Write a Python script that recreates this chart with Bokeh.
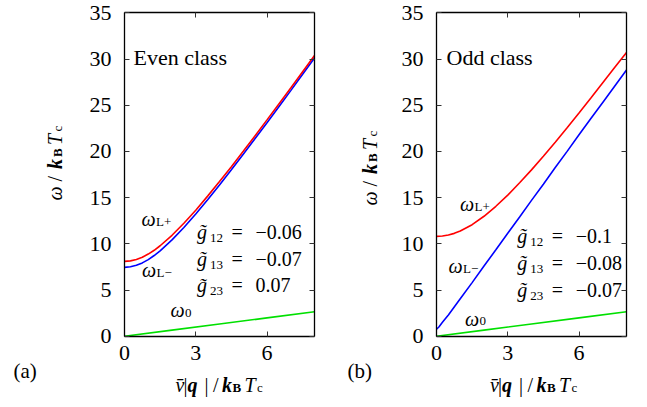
import math
from bokeh.plotting import figure
from bokeh.models import Label, LinearAxis, FixedTicker, CustomJSTickFormatter
from bokeh.layouts import row
from bokeh.embed import file_html
from bokeh.resources import INLINE

# ---------------- data ----------------
q_even = [0, 0.25, 0.5, 0.75, 1, 1.25, 1.5, 2, 2.5, 3, 3.5, 4, 4.5, 5, 5.5,
          6, 6.5, 7, 7.5, 8]
even_Lplus = [8.10, 8.15, 8.30, 8.55, 8.89, 9.30, 9.79, 10.92, 12.22, 13.64,
              15.16, 16.73, 18.35, 20.01, 21.70, 23.41, 25.13, 26.87, 28.62,
              30.38]
even_Lminus = [7.45, 7.51, 7.67, 7.93, 8.29, 8.73, 9.24, 10.42, 11.77, 13.23,
               14.77, 16.37, 18.02, 19.69, 21.39, 23.10, 24.84, 26.58, 28.34,
               30.10]
q_zero = [0, 2, 4, 6, 8]
even_0 = [0, 0.66, 1.32, 1.98, 2.64]

q_odd_plus = [0, 0.25, 0.5, 0.75, 1, 1.5, 2, 2.5, 3, 3.5, 4, 4.5, 5, 5.5, 6,
              6.5, 7, 7.5, 8]
odd_Lplus = [10.80, 10.84, 10.95, 11.13, 11.38, 12.07, 12.98, 14.06, 15.27,
             16.60, 18.00, 19.47, 20.99, 22.55, 24.15, 25.77, 27.42, 29.08,
             30.70]
q_odd_minus = [0, 0.1, 0.25, 0.5, 1, 1.5, 2, 2.5, 3, 3.5, 4, 4.5, 5, 5.5, 6,
               6.5, 7, 7.5, 8]
odd_Lminus = [0.75, 1.00, 1.50, 2.30, 4.05, 5.80, 7.60, 9.35, 11.15, 12.90,
              14.70, 16.45, 18.25, 20.00, 21.80, 23.55, 25.30, 27.05, 28.80]
odd_0 = [0, 0.66, 1.32, 1.98, 2.65]

x_ticks = [0, 3, 6]
y_ticks = [0, 5, 10, 15, 20, 25, 30, 35]
X_MAX = 8
Y_MAX = 35

# ---------------- layout constants (page pixels) ----------------
H = 407
FRAME_TOP = 12.3
FRAME_BOTTOM = 335.7
FRAME_W = 190.0
XS = FRAME_W / X_MAX
YS = (FRAME_BOTTOM - FRAME_TOP) / Y_MAX
FONT = "Liberation Serif"
BASE_SHIFT = 7.0   # renderer places the alphabetic baseline this much lower


def make_panel(page_left, page_right, fl):
    x0 = (page_left - fl) / XS
    x1 = (page_right - fl) / XS
    y0 = (FRAME_BOTTOM - H) / YS
    y1 = FRAME_BOTTOM / YS
    p = figure(width=int(page_right - page_left), height=H,
               x_range=(x0, x1), y_range=(y0, y1),
               output_backend="svg", toolbar_location=None,
               x_axis_location=None, y_axis_location=None,
               min_border=0, min_border_left=0, min_border_right=0,
               min_border_top=0, min_border_bottom=0)
    p.xgrid.visible = False
    p.ygrid.visible = False
    p.outline_line_color = None
    p.background_fill_color = "white"
    p.border_fill_color = "white"

    left = LinearAxis(fixed_location=0, bounds=(0, Y_MAX),
                      ticker=FixedTicker(ticks=y_ticks), major_label_standoff=13)
    right = LinearAxis(fixed_location=X_MAX, bounds=(0, Y_MAX),
                       ticker=FixedTicker(ticks=y_ticks),
                       formatter=CustomJSTickFormatter(code="return ''"),
                       major_label_standoff=0)
    below = LinearAxis(fixed_location=0, bounds=(0, X_MAX),
                       ticker=FixedTicker(ticks=x_ticks), major_label_standoff=10)
    above = LinearAxis(fixed_location=Y_MAX, bounds=(0, X_MAX),
                       ticker=FixedTicker(ticks=x_ticks),
                       formatter=CustomJSTickFormatter(code="return ''"),
                       major_label_standoff=0)
    for ax, side in ((left, "left"), (right, "right"), (below, "below"),
                     (above, "above")):
        ax.axis_line_color = "black"
        ax.axis_line_width = 1.3
        ax.major_tick_in = 5
        ax.major_tick_out = 0
        ax.major_tick_line_color = "#333333"
        ax.major_tick_line_width = 1
        ax.minor_tick_line_color = None
        ax.major_label_text_font = FONT
        ax.major_label_text_font_size = "22px"
        ax.major_label_text_color = "black"
        p.add_layout(ax, side)
    return p


def lab(p, fl, px, py, text, size=20, style="normal", angle=0.0):
    if angle:
        px -= BASE_SHIFT
    else:
        py -= BASE_SHIFT
    p.add_layout(Label(x=(px - fl) / XS, y=(FRAME_BOTTOM - py) / YS,
                       text=text, text_font=FONT, text_font_size=f"{size}px",
                       text_font_style=style, text_color="black", angle=angle,
                       text_align="left", text_baseline="alphabetic"))


def axis_labels(p, fl, dx, dy):
    a = math.pi / 2
    bx = fl - 62.3 + dx
    lab(p, fl, bx, 200 + dy, "ω", 20, "italic", a)
    lab(p, fl, bx, 181 + dy, "/", 20, "normal", a)
    lab(p, fl, bx, 168.5 + dy, "k", 20, "bold italic", a)
    lab(p, fl, bx + 2.5, 156.5 + dy, "B", 13, "bold", a)
    lab(p, fl, bx, 144.5 + dy, "T", 20, "italic", a)
    lab(p, fl, bx + 2.5, 131 + dy, "c", 13, "normal", a)
    ox = fl - 124 + dx
    by = 391
    lab(p, fl, 175 + ox, by, "v\u0304", 20, "italic")
    lab(p, fl, 183 + ox, by, "|", 20, "normal")
    lab(p, fl, 187 + ox, by, "q", 20, "bold italic")
    lab(p, fl, 204 + ox, by, "|", 20, "normal")
    lab(p, fl, 212.5 + ox, by, "/", 20, "normal")
    lab(p, fl, 221.5 + ox, by, "k", 20, "bold italic")
    lab(p, fl, 232 + ox, by + 3, "B", 13, "bold")
    lab(p, fl, 244 + ox, by, "T", 20, "italic")
    lab(p, fl, 256.5 + ox, by + 3, "c", 13, "normal")


def omega(p, fl, px, py, sub):
    lab(p, fl, px, py, "ω", 20, "italic")
    lab(p, fl, px + 14.5, py + 2.5, sub, 13, "normal")


def gline(p, fl, px, py, sub, val):
    lab(p, fl, px, py, "g\u0303", 20, "italic")
    lab(p, fl, px + 13, py + 6, sub, 13, "normal")
    lab(p, fl, px + 34.5, py, "=", 20, "normal")
    lab(p, fl, px + 58.5, py, val, 20, "normal")


RED = "#ff0000"
BLUE = "#0000ff"
GREEN = "#00e000"
LW = 1.6

# ---------------- panel (a) ----------------
FL1 = 124
p1 = make_panel(0, 328, FL1)
p1.line(q_zero, even_0, line_color=GREEN, line_width=LW)
p1.line(q_even, even_Lminus, line_color=BLUE, line_width=LW)
p1.line(q_even, even_Lplus, line_color=RED, line_width=LW)
lab(p1, FL1, 133, 63.5, "Even class", 22)
omega(p1, FL1, 141, 225, "L+")
omega(p1, FL1, 141.5, 276.7, "L\u2212")
omega(p1, FL1, 170, 316.7, "0")
gline(p1, FL1, 196.5, 238.5, "12", "\u22120.06")
gline(p1, FL1, 196.5, 265.2, "13", "\u22120.07")
gline(p1, FL1, 196.5, 291.8, "23", "0.07")
lab(p1, FL1, 13, 377, "(a)", 21)
axis_labels(p1, FL1, 0, 0)

# ---------------- panel (b) ----------------
FL2 = 436
p2 = make_panel(328, 647, FL2)
p2.line(q_zero, odd_0, line_color=GREEN, line_width=LW)
p2.line(q_odd_minus, odd_Lminus, line_color=BLUE, line_width=LW)
p2.line(q_odd_plus, odd_Lplus, line_color=RED, line_width=LW)
lab(p2, FL2, 446, 63.5, "Odd class", 22)
omega(p2, FL2, 459.5, 210.5, "L+")
omega(p2, FL2, 448, 272.5, "L\u2212")
omega(p2, FL2, 464.5, 325, "0")
gline(p2, FL2, 516.7, 242, "12", "\u22120.1")
gline(p2, FL2, 516.7, 269, "13", "\u22120.08")
gline(p2, FL2, 516.7, 296, "23", "\u22120.07")
lab(p2, FL2, 347, 377, "(b)", 21)
axis_labels(p2, FL2, 2.5, 5)

layout = row(p1, p2)
open("out.html", "w").write(file_html(layout, INLINE))
